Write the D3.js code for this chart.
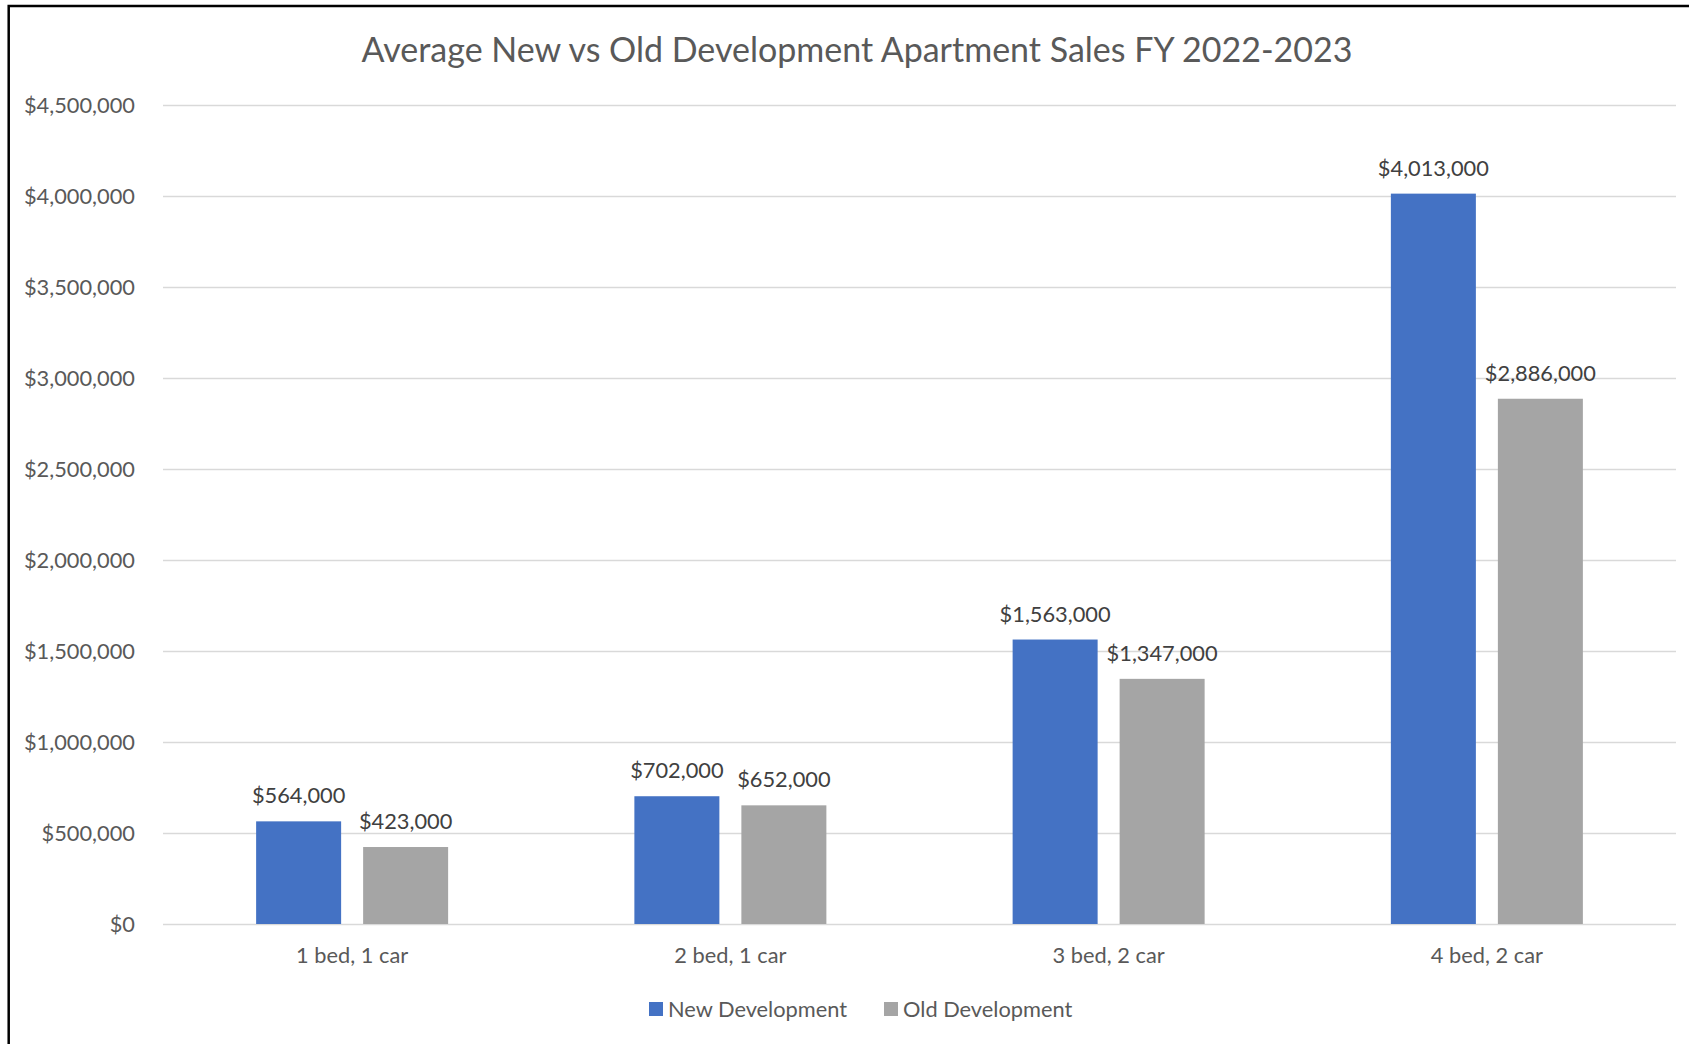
<!DOCTYPE html>
<html><head><meta charset="utf-8">
<script src="https://cdn.jsdelivr.net/npm/d3@7"></script>
<style>html,body{margin:0;padding:0;background:#fff;overflow:hidden}svg{display:block}text{font-family:Lato,"Open Sans",sans-serif}</style>
</head><body>
<script>
const categories = ["1 bed, 1 car","2 bed, 1 car","3 bed, 2 car","4 bed, 2 car"];
const seriesNames = ["New Development","Old Development"];
const newDev = [564000,702000,1563000,4013000];
const oldDev = [423000,652000,1347000,2886000];
const yTicks = [0,500000,1000000,1500000,2000000,2500000,3000000,3500000,4000000,4500000];
const colors = ["#4472C4","#A5A5A5"];

const W=1689,H=1044;
const svg=d3.select("body").append("svg").attr("width",W).attr("height",H);
svg.append("rect").attr("width",W).attr("height",H).attr("fill","#fff");
// chart border (cropped: left + top visible)
svg.append("path").attr("d","M8.7,1044 L8.7,6 L1689,6").attr("fill","none").attr("stroke","#000").attr("stroke-width",2.5);

const x0=163,x1=1676,yTop=105,yBot=924;
const x=d3.scaleBand().domain(categories).range([x0,x1]).paddingInner(0).paddingOuter(0);
const y=d3.scaleLinear().domain([0,4500000]).range([yBot,yTop]);
const barW=85, gap=22;
const xs=d3.scaleBand().domain(seriesNames).range([0,barW*2+gap]).paddingInner(gap/(barW+gap)).paddingOuter(0);
const FS=21.8;

// gridlines
svg.append("g").selectAll("line").data(yTicks).join("line")
  .attr("x1",x0).attr("x2",x1).attr("y1",d=>Math.round(y(d))+0.5).attr("y2",d=>Math.round(y(d))+0.5)
  .attr("stroke","#D9D9D9").attr("stroke-width",1.5);

const fmt=d=>"$"+d3.format(",")(d);
// y tick labels
svg.append("g").selectAll("text").data(yTicks).join("text")
  .attr("x",135).attr("y",d=>y(d)).attr("dy","0.35em").attr("text-anchor","end")
  .attr("font-size",FS).attr("fill","#595959").text(fmt);

const data=categories.map((c,i)=>({cat:c,vals:[newDev[i],oldDev[i]]}));
const groupW=barW*2+gap;
const g=svg.append("g");
data.forEach(d=>{
  const gx=x(d.cat)+x.bandwidth()/2-groupW/2;
  seriesNames.forEach((s,j)=>{
    const v=d.vals[j];
    g.append("rect").attr("x",gx+xs(s)).attr("y",y(v)).attr("width",xs.bandwidth()).attr("height",yBot-y(v)).attr("fill",colors[j]);
    g.append("text").attr("x",gx+xs(s)+xs.bandwidth()/2).attr("y",y(v)-18).attr("text-anchor","middle")
      .attr("font-size",FS).attr("fill","#404040").text(fmt(v));
  });
});

// category labels
svg.append("g").selectAll("text").data(categories).join("text")
  .attr("x",d=>x(d)+x.bandwidth()/2).attr("y",963).attr("text-anchor","middle")
  .attr("font-size",FS).attr("fill","#595959").text(d=>d);

// title
svg.append("text").attr("x",857).attr("y",62).attr("text-anchor","middle")
  .attr("font-size",34).attr("fill","#595959").text("Average New vs Old Development Apartment Sales FY 2022-2023");

// legend
const leg=svg.append("g");
const legX=[649,884];
seriesNames.forEach((s,j)=>{
  leg.append("rect").attr("x",legX[j]).attr("y",1002).attr("width",14).attr("height",14).attr("fill",colors[j]);
  leg.append("text").attr("x",legX[j]+19).attr("y",1009).attr("dy","0.35em").attr("font-size",FS).attr("fill","#595959").text(s);
});
</script>
</body></html>
